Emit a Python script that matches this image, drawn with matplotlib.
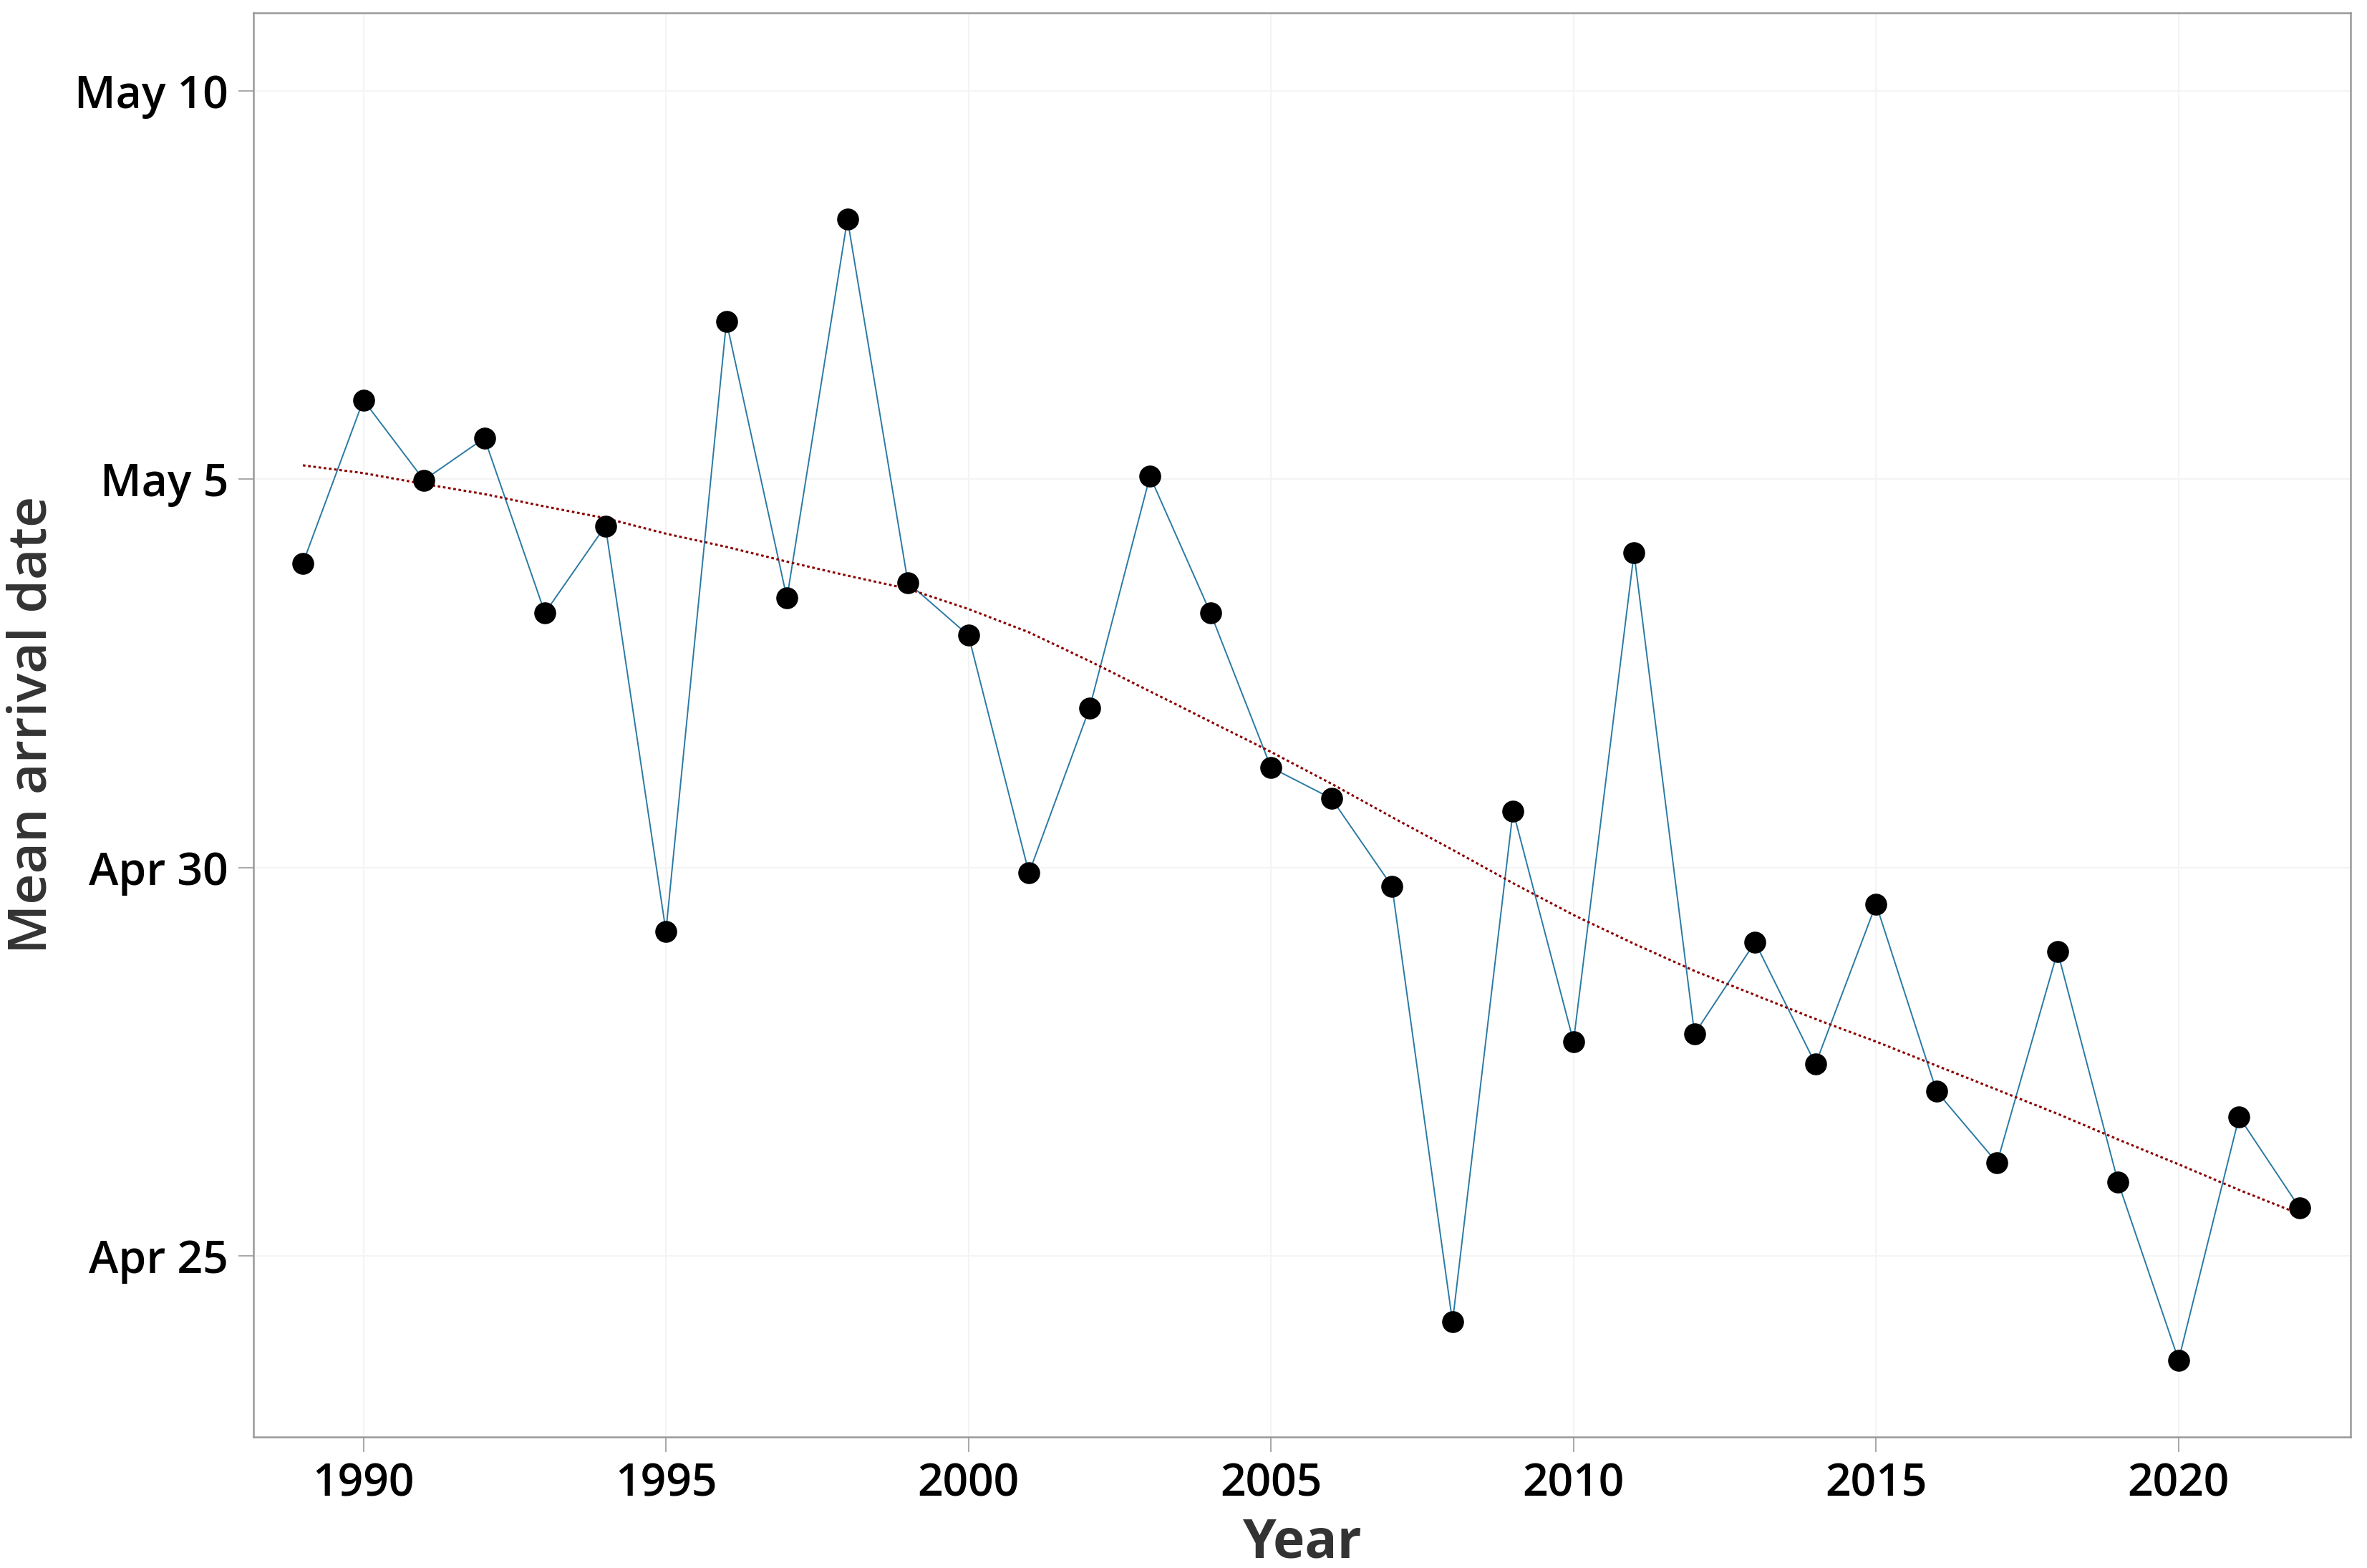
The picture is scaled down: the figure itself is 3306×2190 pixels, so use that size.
import matplotlib
matplotlib.use("Agg")
import matplotlib.pyplot as plt

# mean arrival date, days after Apr 25
years = list(range(1989, 2023))
arrival_days = [8.92, 11.02, 9.99, 10.53, 8.28, 9.40, 4.18, 12.03, 8.47, 13.35,
                8.67, 7.99, 4.93, 7.05, 10.04, 8.28, 6.29, 5.89, 4.76, -0.85,
                5.73, 2.76, 9.05, 2.86, 4.04, 2.47, 4.53, 2.12, 1.20, 3.92,
                0.95, -1.34, 1.79, 0.62]
# smoothed trend
trend_days = [10.18, 10.08, 9.94, 9.81, 9.65, 9.50, 9.30, 9.13, 8.94, 8.76,
              8.59, 8.33, 8.03, 7.66, 7.27, 6.88, 6.49, 6.08, 5.65, 5.23,
              4.80, 4.39, 4.02, 3.67, 3.36, 3.05, 2.76, 2.45, 2.14, 1.83,
              1.50, 1.18, 0.85, 0.54]
ytick_vals = [0, 5, 10, 15]
ytick_labels = ["Apr 25", "Apr 30", "May 5", "May 10"]
xtick_vals = [1990, 1995, 2000, 2005, 2010, 2015, 2020]

plt.rcParams['font.family'] = ['Open Sans', 'DejaVu Sans']

fig = plt.figure(figsize=(33.06, 21.9), dpi=100)
ax = fig.add_axes([0.107, 0.0836, 0.993 - 0.107, 0.992 - 0.0836])

ax.plot(years, arrival_days, color="#2a7aa3", linewidth=1.4, zorder=2)
ax.plot(years, trend_days, color="#8b0000", linewidth=2.2, linestyle=(0, (1.2, 1.2)), zorder=3)
ax.plot(years, arrival_days, linestyle="none", marker="o", markersize=21,
        color="black", zorder=4)

ax.set_xlim(1988.18, 2022.84)
ax.set_ylim(-2.33, 16.01)
ax.set_xticks(xtick_vals)
ax.set_xticklabels([str(x) for x in xtick_vals])
ax.set_yticks(ytick_vals)
ax.set_yticklabels(ytick_labels)

ax.grid(True, color="#f4f4f4", linewidth=1.5, zorder=0)
ax.set_axisbelow(True)
for s in ax.spines.values():
    s.set_color("#999999")
    s.set_linewidth(1.8)

ax.tick_params(axis="both", length=15, width=1.2, color="#999999",
               labelsize=45, labelcolor="black", pad=10)
for lab in ax.get_xticklabels() + ax.get_yticklabels():
    lab.set_fontweight("semibold")

ax.set_xlabel("Year", fontsize=54, color="#333333", fontweight="bold", labelpad=10)
ax.set_ylabel("Mean arrival date", fontsize=54, color="#333333", fontweight="semibold", labelpad=16)

fig.savefig("out.png", dpi=100)
